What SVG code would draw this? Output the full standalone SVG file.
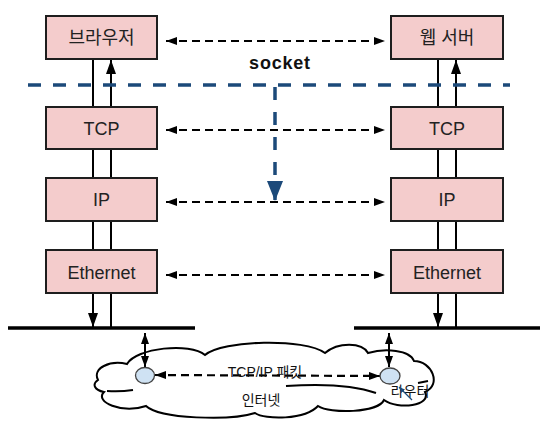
<svg xmlns="http://www.w3.org/2000/svg" width="554" height="431" viewBox="0 0 554 431">
<defs>
<style>
.box{fill:#f4cccc;stroke:#1e1e1e;stroke-width:2}
.lbl{font-family:"Liberation Sans","Noto Sans CJK KR",sans-serif;font-size:18px;fill:#222;text-anchor:middle}
.small{font-family:"Liberation Sans","Noto Sans CJK KR",sans-serif;font-size:14px;fill:#111;text-anchor:middle}
.solid{stroke:#000;stroke-width:2;fill:none}
.dash{stroke:#000;stroke-width:2.2;fill:none;stroke-dasharray:8 5}
.bus{stroke:#000;stroke-width:3.5;fill:none}
.blue{stroke:#1c4a7a;stroke-width:3.5;fill:none;stroke-dasharray:13 12}
.router{fill:#cfe2f3;stroke:#444;stroke-width:1.3}
</style>
<marker id="ah" markerUnits="userSpaceOnUse" markerWidth="11" markerHeight="8" refX="11" refY="4" orient="auto-start-reverse"><path d="M0,0 L11,4 L0,8 z" fill="#000"/></marker>
<marker id="ahv" markerUnits="userSpaceOnUse" markerWidth="14" markerHeight="10" refX="14" refY="5" orient="auto-start-reverse"><path d="M0,0 L14,5 L0,10 z" fill="#000"/></marker>
<marker id="ahb" markerUnits="userSpaceOnUse" markerWidth="20" markerHeight="16" refX="20" refY="8" orient="auto"><path d="M0,0 L20,8 L0,16 z" fill="#1c4a7a"/></marker>
<marker id="ahs" markerUnits="userSpaceOnUse" markerWidth="6" markerHeight="5" refX="6" refY="2.5" orient="auto"><path d="M0,0 L6,2.5 L0,5 z" fill="#1c4a7a"/></marker>
</defs>

<g id="cloud">
<path d="M98,380 C92,368 110,360 127,364 C136,348 190,342 205,355 C222,340 305,338 325,353 C338,342 362,342 368,353 C385,348 410,350 414,361 C432,361 442,385 425,392 C432,406 398,410 384,400 C378,413 330,414 318,406 C305,420 265,420 255,413 C230,421 160,419 146,406 C122,414 94,402 104,392 C94,390 92,384 98,380 Z" fill="#fff" stroke="#000" stroke-width="2"/>
<path d="M107,391 Q120,392 133,390" class="solid"/>
<path d="M286,386 Q345,382 376,393" class="solid"/>
<path d="M418,383 L428,381" class="solid"/>
</g>

<g id="connectors">
<line x1="93" y1="59" x2="93" y2="107" class="solid"/>
<line x1="111" y1="107" x2="111" y2="60" class="solid" marker-end="url(#ahv)"/>
<line x1="93" y1="149" x2="93" y2="178" class="solid"/>
<line x1="111" y1="149" x2="111" y2="178" class="solid"/>
<line x1="93" y1="221" x2="93" y2="250" class="solid"/>
<line x1="111" y1="221" x2="111" y2="250" class="solid"/>
<line x1="93" y1="293" x2="93" y2="327" class="solid" marker-end="url(#ahv)"/>
<line x1="111" y1="293" x2="111" y2="328" class="solid"/>
<line x1="438" y1="59" x2="438" y2="107" class="solid"/>
<line x1="456" y1="107" x2="456" y2="60" class="solid" marker-end="url(#ahv)"/>
<line x1="438" y1="149" x2="438" y2="178" class="solid"/>
<line x1="456" y1="149" x2="456" y2="178" class="solid"/>
<line x1="438" y1="221" x2="438" y2="250" class="solid"/>
<line x1="456" y1="221" x2="456" y2="250" class="solid"/>
<line x1="438" y1="293" x2="438" y2="327" class="solid" marker-end="url(#ahv)"/>
<line x1="456" y1="293" x2="456" y2="328" class="solid"/>
<line x1="8" y1="328" x2="195" y2="328" class="bus"/>
<line x1="354" y1="328" x2="540" y2="328" class="bus"/>
<line x1="166" y1="41" x2="385" y2="41" class="dash" marker-start="url(#ah)" marker-end="url(#ah)"/>
<line x1="166" y1="130" x2="385" y2="130" class="dash" marker-start="url(#ah)" marker-end="url(#ah)"/>
<line x1="166" y1="202" x2="385" y2="202" class="dash" marker-start="url(#ah)" marker-end="url(#ah)"/>
<line x1="166" y1="275" x2="385" y2="275" class="dash" marker-start="url(#ah)" marker-end="url(#ah)"/>
<line x1="28" y1="85" x2="510" y2="85" class="blue"/>
<line x1="275" y1="87" x2="275" y2="201" class="blue" stroke-dasharray="12 10" marker-end="url(#ahb)"/>
<line x1="145" y1="333" x2="145" y2="367" class="solid" marker-start="url(#ah)" marker-end="url(#ah)"/>
<line x1="389" y1="333" x2="389" y2="367" class="solid" marker-start="url(#ah)" marker-end="url(#ah)"/>
<line x1="155" y1="375" x2="380" y2="376" class="dash" marker-start="url(#ah)" marker-end="url(#ah)"/>
</g>

<g id="browser"><rect x="46" y="16" width="111" height="43" class="box"/><text x="101.5" y="44" class="lbl">브라우저</text></g>
<g id="webserver"><rect x="391" y="16" width="112" height="43" class="box"/><text x="447" y="44" class="lbl">웹 서버</text></g>
<g id="tcp-left"><rect x="46" y="107" width="111" height="42" class="box"/><text x="101.5" y="134.5" class="lbl">TCP</text></g>
<g id="tcp-right"><rect x="391" y="107" width="112" height="42" class="box"/><text x="447" y="134.5" class="lbl">TCP</text></g>
<g id="ip-left"><rect x="46" y="178" width="111" height="43" class="box"/><text x="101.5" y="206" class="lbl">IP</text></g>
<g id="ip-right"><rect x="391" y="178" width="112" height="43" class="box"/><text x="447" y="206" class="lbl">IP</text></g>
<g id="eth-left"><rect x="46" y="250" width="111" height="43" class="box"/><text x="101.5" y="278.5" class="lbl">Ethernet</text></g>
<g id="eth-right"><rect x="391" y="250" width="112" height="43" class="box"/><text x="447" y="278.5" class="lbl">Ethernet</text></g>

<g id="socket-label"><text x="280" y="69" class="lbl" style="font-weight:bold;font-size:18px;letter-spacing:0.8px;fill:#111">socket</text></g>

<g id="router-left"><ellipse cx="145" cy="375.5" rx="9.5" ry="8" class="router"/></g>
<g id="router-right"><ellipse cx="390" cy="376" rx="10" ry="8" class="router"/>
<text x="410" y="396" class="small">라우터</text>
<line x1="412" y1="400" x2="399" y2="387" stroke="#1c4a7a" stroke-width="1.2" marker-end="url(#ahs)"/></g>

<g id="cloud-labels">
<text x="265" y="377" class="small">TCP/IP 패킷</text>
<text x="261" y="405" class="small">인터넷</text>
</g>
</svg>
